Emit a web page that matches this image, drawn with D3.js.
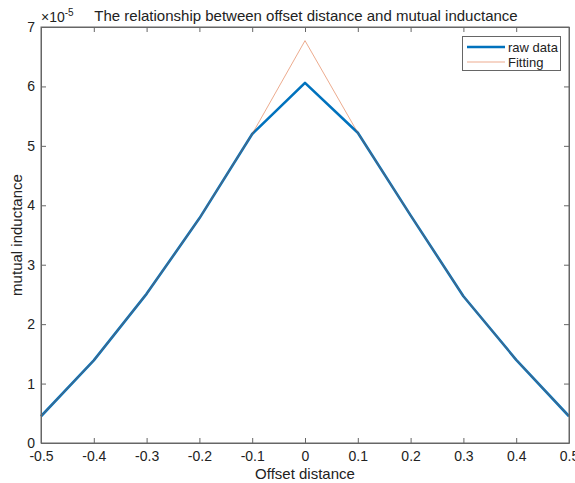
<!DOCTYPE html>
<html><head><meta charset="utf-8">
<script src="https://cdn.jsdelivr.net/npm/d3@7"></script>
<style>body{margin:0;background:#fff}svg{display:block}text{font-family:"Liberation Sans",Arial,sans-serif;fill:#222}</style>
</head><body><svg id="c" width="575" height="483"></svg>
<script>
const offsets = [-0.5,-0.4,-0.3,-0.2,-0.1,0,0.1,0.2,0.3,0.4,0.5];
const rawData = [0.45,1.39,2.51,3.78,5.2,6.06,5.22,3.83,2.47,1.40,0.45];
const fitting = [0.45,1.39,2.51,3.78,5.2,6.77,5.22,3.83,2.47,1.40,0.45];
const xTicks = [-0.5,-0.4,-0.3,-0.2,-0.1,0,0.1,0.2,0.3,0.4,0.5];
const xTickLabels = ["-0.5","-0.4","-0.3","-0.2","-0.1","0","0.1","0.2","0.3","0.4","0.5"];
const yTicks = [0,1,2,3,4,5,6,7];

const svg = d3.select("#c");
const L=41,R=569,T=27,B=443;
const x = d3.scaleLinear().domain([-0.5,0.5]).range([L,R]);
const y = d3.scaleLinear().domain([0,7]).range([B,T]);
const axisCol="#666";

const line = d3.line().x((d,i)=>x(offsets[i])).y(d=>y(d));
svg.append("path").datum(rawData).attr("d",line).attr("fill","none")
  .attr("stroke","#0072BD").attr("stroke-width",2.6).attr("stroke-linejoin","round");
svg.append("path").datum(fitting).attr("d",line).attr("fill","none")
  .attr("stroke","#D95319").attr("stroke-width",0.7).attr("stroke-opacity",0.7);

// axes
const gx = svg.append("g").attr("transform",`translate(0,${B})`)
  .call(d3.axisBottom(x).tickValues(xTicks).tickSizeInner(-5).tickSizeOuter(0).tickPadding(8).tickFormat((d,i)=>xTickLabels[i]));
const gxt = svg.append("g").attr("transform",`translate(0,${T})`)
  .call(d3.axisTop(x).tickValues(xTicks).tickSizeInner(-5).tickSizeOuter(0).tickFormat(""));
const gy = svg.append("g").attr("transform",`translate(${L},0)`)
  .call(d3.axisLeft(y).tickValues(yTicks).tickSizeInner(-5).tickSizeOuter(0).tickPadding(6).tickFormat(d3.format("d")));
const gyr = svg.append("g").attr("transform",`translate(${R},0)`)
  .call(d3.axisRight(y).tickValues(yTicks).tickSizeInner(-5).tickSizeOuter(0).tickFormat(""));
[gx,gxt,gy,gyr].forEach(g=>{
  g.select(".domain").attr("stroke",axisCol);
  g.selectAll(".tick line").attr("stroke",axisCol);
  g.selectAll("text").attr("font-size",14).attr("fill","#222").attr("font-family","Liberation Sans, Arial, sans-serif");
});
svg.append("rect").attr("x",L).attr("y",T).attr("width",R-L).attr("height",B-T)
  .attr("fill","none").attr("stroke",axisCol).attr("stroke-width",1);

// exponent
const ex = svg.append("text").attr("x",41).attr("y",22).attr("font-size",14);
ex.append("tspan").text("\u00d710");
ex.append("tspan").attr("dy",-6).attr("font-size",10).text("-5");

svg.append("text").attr("x",(L+R)/2+1).attr("y",21).attr("text-anchor","middle")
  .attr("font-size",15).text("The relationship between offset distance and mutual inductance");
svg.append("text").attr("x",(L+R)/2).attr("y",479).attr("text-anchor","middle")
  .attr("font-size",15).text("Offset distance");
svg.append("text").attr("transform",`translate(22,${(T+B)/2}) rotate(-90)`).attr("text-anchor","middle")
  .attr("font-size",15).text("mutual inductance");

// legend
const lg = svg.append("g");
lg.append("rect").attr("x",462.5).attr("y",36.5).attr("width",98).attr("height",34)
  .attr("fill","#fff").attr("stroke","#666");
const series=[{n:"raw data",c:"#0072BD",w:2.6,o:1},{n:"Fitting",c:"#D95319",w:0.7,o:0.7}];
series.forEach((s,i)=>{
  const yy=47+i*15;
  lg.append("line").attr("x1",467).attr("x2",505).attr("y1",yy).attr("y2",yy)
    .attr("stroke",s.c).attr("stroke-width",s.w).attr("stroke-opacity",s.o);
  lg.append("text").attr("x",508).attr("y",yy+4.5).attr("font-size",13).text(s.n);
});
</script></body></html>
